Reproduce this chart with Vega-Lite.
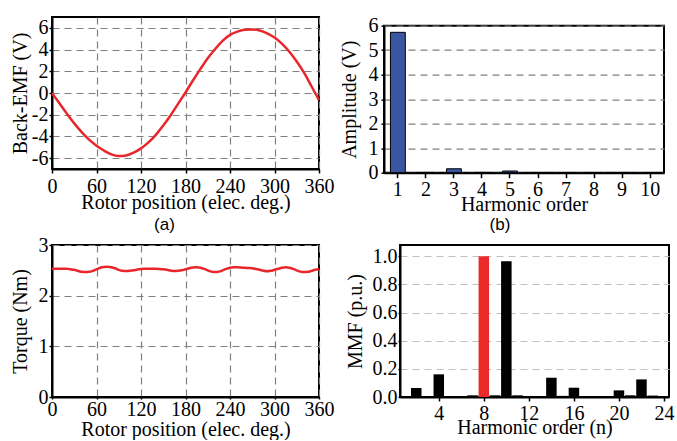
{
  "$schema": "https://vega.github.io/schema/vega-lite/v6.json",
  "padding": {"left": 9, "top": 14, "right": 0, "bottom": 0},
  "background": "white",
  "config": {
    "font": "Liberation Serif",
    "view": {"stroke": "black", "strokeWidth": 2},
    "axis": {
      "labelFont": "Liberation Serif", "titleFont": "Liberation Serif",
      "labelFontSize": 20, "titleFontSize": 20,
      "labelColor": "black", "titleColor": "black", "titleFontWeight": "normal",
      "domainColor": "black", "domainWidth": 2,
      "tickColor": "black", "tickWidth": 1.5,
      "gridColor": "#808080", "gridDash": [7, 5], "gridWidth": 1.2,
      "labelFlush": false, "labelOverlap": false
    }
  },
  "spacing": -1,
  "vconcat": [
    {
      "spacing": 3,
      "hconcat": [
        {
          "width": 267, "height": 152,
          "title": {"text": "(a)", "orient": "bottom", "font": "Liberation Sans", "fontSize": 17, "fontWeight": "normal", "frame": "group", "dx": -21, "offset": 5, "color": "black"},
          "data": {"values": [
            {"deg": 0, "emf": 0}, {"deg": 10, "emf": -0.95}, {"deg": 20, "emf": -1.9}, {"deg": 30, "emf": -2.8},
            {"deg": 40, "emf": -3.6}, {"deg": 50, "emf": -4.3}, {"deg": 60, "emf": -4.85}, {"deg": 70, "emf": -5.3},
            {"deg": 80, "emf": -5.65}, {"deg": 90, "emf": -5.8}, {"deg": 100, "emf": -5.75}, {"deg": 110, "emf": -5.5},
            {"deg": 120, "emf": -5.1}, {"deg": 130, "emf": -4.55}, {"deg": 140, "emf": -3.85}, {"deg": 150, "emf": -3.0},
            {"deg": 160, "emf": -2.05}, {"deg": 170, "emf": -1.0}, {"deg": 180, "emf": 0.05}, {"deg": 190, "emf": 1.15},
            {"deg": 200, "emf": 2.2}, {"deg": 210, "emf": 3.2}, {"deg": 220, "emf": 4.05}, {"deg": 230, "emf": 4.8},
            {"deg": 240, "emf": 5.35}, {"deg": 250, "emf": 5.65}, {"deg": 260, "emf": 5.82}, {"deg": 270, "emf": 5.85},
            {"deg": 280, "emf": 5.75}, {"deg": 290, "emf": 5.5}, {"deg": 300, "emf": 5.12}, {"deg": 310, "emf": 4.55},
            {"deg": 320, "emf": 3.8}, {"deg": 330, "emf": 2.9}, {"deg": 340, "emf": 1.85}, {"deg": 350, "emf": 0.6},
            {"deg": 360, "emf": -0.65}
          ]},
          "mark": {"type": "line", "color": "#e8262b", "strokeWidth": 2.5, "interpolate": "monotone"},
          "encoding": {
            "x": {"field": "deg", "type": "quantitative", "scale": {"domain": [0, 360], "nice": false},
                  "axis": {"values": [0, 60, 120, 180, 240, 300, 360], "title": "Rotor position (elec. deg.)", "tickSize": 4, "labelPadding": 3, "titlePadding": -4, "grid": true}},
            "y": {"field": "emf", "type": "quantitative", "scale": {"domain": [-7, 7], "nice": false},
                  "axis": {"values": [-6, -4, -2, 0, 2, 4, 6], "title": "Back-EMF (V)", "tickSize": 3, "labelPadding": 1, "titlePadding": 1, "grid": true,
                           "labelExpr": "datum.value < 0 ? '-' + abs(datum.value) : '' + datum.value"}}
          }
        },
        {
          "spacing": -3.3,
          "vconcat": [
            {
              "width": 280, "height": 1,
              "view": {"stroke": null},
              "data": {"values": []},
              "mark": "point",
              "encoding": {}
            },
            {
              "width": 280, "height": 147,
              "title": {"text": "(b)", "orient": "bottom", "font": "Liberation Sans", "fontSize": 17, "fontWeight": "normal", "frame": "group", "dx": -24, "offset": 2.5, "color": "black"},
              "data": {"values": [
                {"order": 1, "amp": 5.73}, {"order": 2, "amp": 0.01}, {"order": 3, "amp": 0.16}, {"order": 4, "amp": 0.01},
                {"order": 5, "amp": 0.07}, {"order": 6, "amp": 0.005}, {"order": 7, "amp": 0.005}, {"order": 8, "amp": 0.005},
                {"order": 9, "amp": 0.005}, {"order": 10, "amp": 0.005}
              ]},
              "mark": {"type": "bar", "color": "#3a56a3", "stroke": "black", "strokeWidth": 1},
              "encoding": {
                "x": {"field": "order", "type": "ordinal", "scale": {"paddingInner": 0.47, "paddingOuter": 0.23},
                      "axis": {"labelAngle": 0, "title": "Harmonic order", "tickSize": 5, "labelPadding": 2, "titlePadding": -5, "grid": false}},
                "y": {"field": "amp", "type": "quantitative", "scale": {"domain": [0, 6], "nice": false},
                      "axis": {"values": [0, 1, 2, 3, 4, 5, 6], "title": "Amplitude (V)", "tickSize": 3, "labelPadding": 3, "titlePadding": 8.5, "grid": true}}
              }
            }
          ]
        }
      ]
    },
    {
      "spacing": 81,
      "bounds": "flush",
      "hconcat": [
        {
          "width": 267, "height": 152,
          "data": {"values": [
            {"deg": 0, "t": 2.53}, {"deg": 5, "t": 2.53}, {"deg": 10, "t": 2.53}, {"deg": 15, "t": 2.53}, {"deg": 20, "t": 2.53},
            {"deg": 25, "t": 2.52}, {"deg": 30, "t": 2.51}, {"deg": 35, "t": 2.49}, {"deg": 40, "t": 2.47}, {"deg": 45, "t": 2.465},
            {"deg": 50, "t": 2.47}, {"deg": 55, "t": 2.49}, {"deg": 60, "t": 2.52}, {"deg": 65, "t": 2.55}, {"deg": 70, "t": 2.565},
            {"deg": 75, "t": 2.57}, {"deg": 80, "t": 2.56}, {"deg": 85, "t": 2.54}, {"deg": 90, "t": 2.51}, {"deg": 95, "t": 2.49},
            {"deg": 100, "t": 2.485}, {"deg": 105, "t": 2.49}, {"deg": 110, "t": 2.5}, {"deg": 115, "t": 2.515}, {"deg": 120, "t": 2.525},
            {"deg": 125, "t": 2.53}, {"deg": 130, "t": 2.53}, {"deg": 135, "t": 2.53}, {"deg": 140, "t": 2.53}, {"deg": 145, "t": 2.525},
            {"deg": 150, "t": 2.52}, {"deg": 155, "t": 2.51}, {"deg": 160, "t": 2.495}, {"deg": 165, "t": 2.485}, {"deg": 170, "t": 2.49},
            {"deg": 175, "t": 2.5}, {"deg": 180, "t": 2.52}, {"deg": 185, "t": 2.54}, {"deg": 190, "t": 2.555}, {"deg": 195, "t": 2.56},
            {"deg": 200, "t": 2.55}, {"deg": 205, "t": 2.53}, {"deg": 210, "t": 2.5}, {"deg": 215, "t": 2.475}, {"deg": 220, "t": 2.465},
            {"deg": 225, "t": 2.475}, {"deg": 230, "t": 2.5}, {"deg": 235, "t": 2.53}, {"deg": 240, "t": 2.55}, {"deg": 245, "t": 2.56},
            {"deg": 250, "t": 2.56}, {"deg": 255, "t": 2.555}, {"deg": 260, "t": 2.55}, {"deg": 265, "t": 2.545}, {"deg": 270, "t": 2.54},
            {"deg": 275, "t": 2.525}, {"deg": 280, "t": 2.51}, {"deg": 285, "t": 2.49}, {"deg": 290, "t": 2.48}, {"deg": 295, "t": 2.49},
            {"deg": 300, "t": 2.51}, {"deg": 305, "t": 2.53}, {"deg": 310, "t": 2.55}, {"deg": 315, "t": 2.56}, {"deg": 320, "t": 2.55},
            {"deg": 325, "t": 2.53}, {"deg": 330, "t": 2.5}, {"deg": 335, "t": 2.475}, {"deg": 340, "t": 2.465}, {"deg": 345, "t": 2.47},
            {"deg": 350, "t": 2.49}, {"deg": 355, "t": 2.51}, {"deg": 360, "t": 2.525}
          ]},
          "mark": {"type": "line", "color": "#e8262b", "strokeWidth": 2.5, "interpolate": "monotone"},
          "encoding": {
            "x": {"field": "deg", "type": "quantitative", "scale": {"domain": [0, 360], "nice": false},
                  "axis": {"values": [0, 60, 120, 180, 240, 300, 360], "title": "Rotor position (elec. deg.)", "tickSize": 2, "labelPadding": 0, "titlePadding": 0, "grid": true}},
            "y": {"field": "t", "type": "quantitative", "scale": {"domain": [0, 3], "nice": false},
                  "axis": {"values": [0, 1, 2, 3], "title": "Torque (Nm)", "tickSize": 3, "labelPadding": 1, "titlePadding": 8, "grid": true}}
          }
        },
        {
          "width": 269, "height": 152,
          "data": {"values": [
            {"n": 2, "mmf": 0.064, "g": "other"}, {"n": 3, "mmf": 0.006, "g": "other"}, {"n": 4, "mmf": 0.161, "g": "other"},
            {"n": 5, "mmf": 0.003, "g": "other"}, {"n": 6, "mmf": 0.003, "g": "other"}, {"n": 7, "mmf": 0.012, "g": "other"},
            {"n": 8, "mmf": 1.0, "g": "main"}, {"n": 9, "mmf": 0.012, "g": "other"}, {"n": 10, "mmf": 0.965, "g": "other"},
            {"n": 11, "mmf": 0.012, "g": "other"}, {"n": 12, "mmf": 0.003, "g": "other"}, {"n": 13, "mmf": 0.003, "g": "other"},
            {"n": 14, "mmf": 0.137, "g": "other"}, {"n": 15, "mmf": 0.008, "g": "other"}, {"n": 16, "mmf": 0.066, "g": "other"},
            {"n": 17, "mmf": 0.003, "g": "other"}, {"n": 18, "mmf": 0.005, "g": "other"}, {"n": 19, "mmf": 0.003, "g": "other"},
            {"n": 20, "mmf": 0.047, "g": "other"}, {"n": 21, "mmf": 0.012, "g": "other"}, {"n": 22, "mmf": 0.125, "g": "other"},
            {"n": 23, "mmf": 0.01, "g": "other"}
          ]},
          "mark": {"type": "bar", "size": 10.5},
          "encoding": {
            "x": {"field": "n", "type": "quantitative", "scale": {"domain": [1, 24], "nice": false, "zero": false},
                  "axis": {"values": [4, 8, 12, 16, 20, 24], "title": "Harmonic order (n)", "tickSize": 4, "labelPadding": 2, "titlePadding": -6, "grid": false}},
            "y": {"field": "mmf", "type": "quantitative", "scale": {"domain": [0, 1.08], "nice": false},
                  "axis": {"values": [0, 0.2, 0.4, 0.6, 0.8, 1.0], "format": ".1f", "title": "MMF (p.u.)", "tickSize": 2, "labelPadding": 1, "titlePadding": 6.5, "grid": true, "gridColor": "#c0c0c0"}},
            "color": {"field": "g", "type": "nominal", "scale": {"domain": ["main", "other"], "range": ["#ec2a2a", "#000000"]}, "legend": null}
          }
        }
      ]
    }
  ]
}
